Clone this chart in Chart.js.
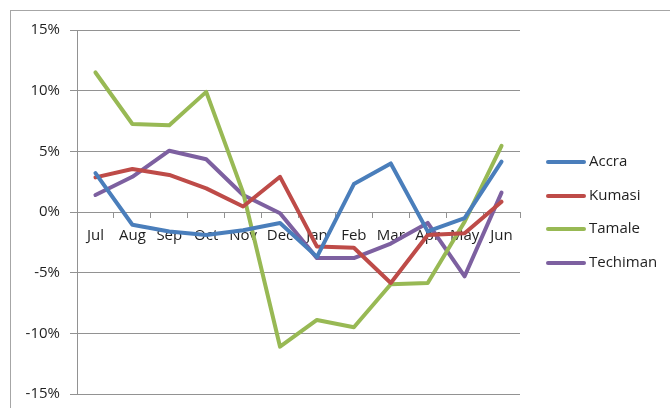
<!DOCTYPE html>
<html>
<head>
<meta charset="utf-8">
<script src="https://cdn.jsdelivr.net/npm/chart.js@4/dist/chart.umd.min.js"></script>
<style>
  html, body { margin: 0; padding: 0; background: #fff; }
  #wrap { position: relative; width: 670px; height: 408px; }
</style>
</head>
<body>
<div id="wrap"><canvas id="chart" width="670" height="408"></canvas></div>
<script>
// Monthly change by city, in percent
const months = ["Jul", "Aug", "Sep", "Oct", "Nov", "Dec", "Jan", "Feb", "Mar", "Apr", "May", "Jun"];
const accra = [3.2, -1.05, -1.6, -1.9, -1.5, -0.9, -3.7, 2.3, 4.0, -1.6, -0.5, 4.15];
const kumasi = [2.85, 3.55, 3.05, 1.95, 0.45, 2.9, -2.85, -2.95, -5.85, -1.9, -1.75, 0.85];
const tamale = [11.5, 7.25, 7.15, 9.9, 1.6, -11.1, -8.9, -9.5, -5.95, -5.85, -0.8, 5.45];
const techiman = [1.4, 2.9, 5.05, 4.35, 1.4, -0.1, -3.8, -3.8, -2.6, -0.9, -5.3, 1.6];
const yTicks = [-15, -10, -5, 0, 5, 10, 15];

const gridColor = "#929292";
const textColor = "#1f1f1f";

Chart.defaults.font.family = "'Open Sans', sans-serif";
Chart.defaults.font.size = 15;
Chart.defaults.color = textColor;

function series(label, data, color) {
  return {
    label: label,
    data: data,
    borderColor: color,
    backgroundColor: color,
    borderWidth: 4,
    borderJoinStyle: "round",
    borderCapStyle: "round",
    pointRadius: 0,
    tension: 0,
    fill: false
  };
}

// frame around the whole chart
const framePlugin = {
  id: "frame",
  beforeDraw(chart) {
    const ctx = chart.ctx;
    ctx.save();
    ctx.strokeStyle = "#a6a6a6";
    ctx.lineWidth = 1;
    ctx.strokeRect(10.5, 10.5, 720, 520);
    ctx.restore();
  }
};

// legend at the right, one line sample per series
const sideLegend = {
  id: "sideLegend",
  afterDraw(chart) {
    const ctx = chart.ctx;
    const x0 = 548, x1 = 584, tx = 589;
    const rows = [162, 196, 229, 263];
    ctx.save();
    chart.data.datasets.forEach((ds, i) => {
      const y = rows[i];
      ctx.strokeStyle = ds.borderColor;
      ctx.lineWidth = 4;
      ctx.lineCap = "round";
      ctx.beginPath();
      ctx.moveTo(x0, y);
      ctx.lineTo(x1, y);
      ctx.stroke();
      ctx.fillStyle = textColor;
      ctx.font = "15px 'Open Sans', sans-serif";
      ctx.textBaseline = "middle";
      ctx.fillText(ds.label, tx, y);
    });
    ctx.restore();
  }
};

new Chart(document.getElementById("chart"), {
  type: "line",
  data: {
    labels: months,
    datasets: [
      series("Accra", accra, "#4a7ebb"),
      series("Kumasi", kumasi, "#be4b48"),
      series("Tamale", tamale, "#98b954"),
      series("Techiman", techiman, "#7d60a0")
    ]
  },
  options: {
    responsive: false,
    animation: false,
    layout: { padding: { top: 30, bottom: 14, left: 0, right: 150 } },
    plugins: {
      legend: { display: false },
      tooltip: { enabled: false }
    },
    scales: {
      x: {
        type: "category",
        position: { y: 0 },
        offset: true,
        afterFit(scale) {
          // axis sits on the zero line, it takes no room of its own
          scale.height = 0;
        },
        grid: {
          display: true,
          offset: true,
          drawOnChartArea: false,
          drawTicks: true,
          tickLength: 5,
          color: gridColor
        },
        border: { display: true, color: gridColor, width: 1 },
        ticks: { padding: 10, maxRotation: 0, autoSkip: false, color: textColor }
      },
      y: {
        min: -15,
        max: 15,
        afterBuildTicks(scale) {
          scale.ticks = yTicks.map(v => ({ value: v }));
        },
        afterFit(scale) {
          scale.width = 77;
          // layout padding alone decides top and bottom
          scale.paddingTop = 0;
          scale.paddingBottom = 0;
        },
        grid: { color: gridColor, tickLength: 7, lineWidth: 1 },
        border: { display: true, color: gridColor },
        ticks: {
          padding: 10,
          color: textColor,
          callback: v => v + "%"
        }
      }
    }
  },
  plugins: [framePlugin, sideLegend]
});
</script>
</body>
</html>
